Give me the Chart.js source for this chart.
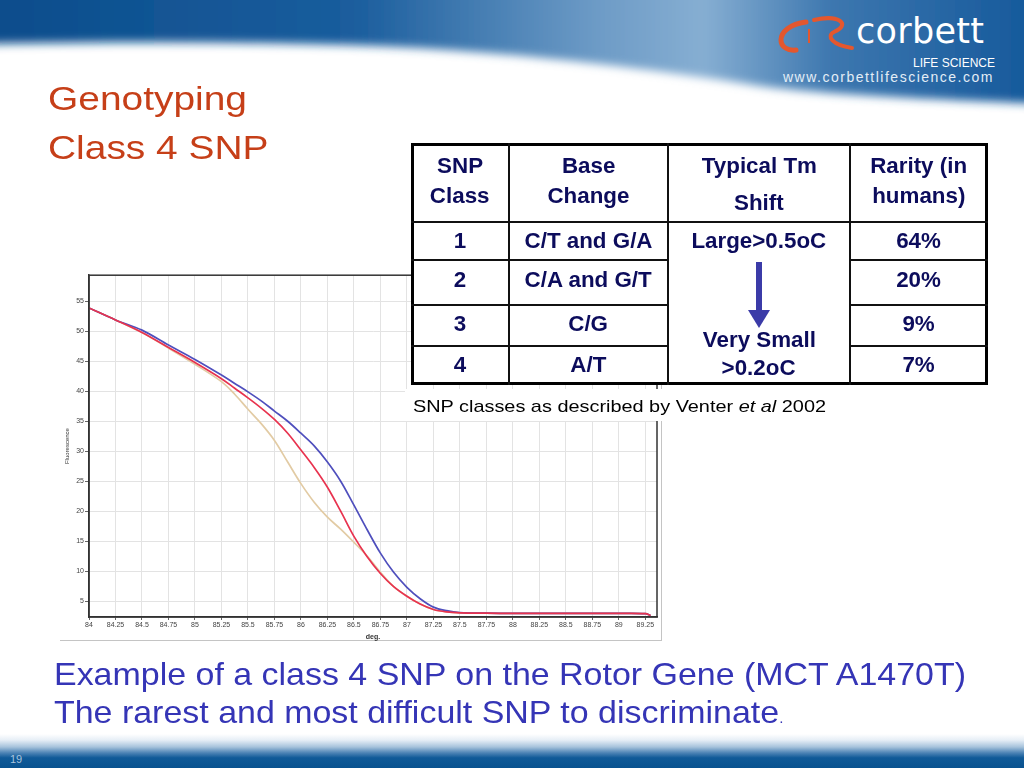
<!DOCTYPE html>
<html><head><meta charset="utf-8">
<script src="https://cdn.jsdelivr.net/npm/chart.js@4.4.0/dist/chart.umd.min.js"></script>
<style>
html,body{margin:0;padding:0;width:1024px;height:768px;overflow:hidden;background:#fff;font-family:"Liberation Sans",Arial,sans-serif;}
.abs{position:absolute;white-space:nowrap;line-height:1;}
#chartBox{position:absolute;left:62px;top:270px;width:599px;height:371px;}
#imgBorder{position:absolute;left:60px;top:268px;width:601px;height:372px;border-right:1px solid #c4c4c4;border-bottom:1px solid #c4c4c4;}
#table{position:absolute;left:411px;top:143px;width:577px;height:242px;background:#fff;border:3px solid #000;box-sizing:border-box;}
.ln{position:absolute;background:#111;}
.tc{position:absolute;white-space:nowrap;line-height:1;font-weight:bold;color:#0c0c5c;}
#bottomBand{position:absolute;left:0;top:734px;width:1024px;height:34px;
 background:linear-gradient(to bottom,#ffffff 0%,#e6eef6 18%,#a7c3dc 38%,#4f85b6 55%,#105a98 70%,#09528f 100%);}
</style></head><body>

<svg width="1024" height="130" style="position:absolute;left:0;top:0">
 <defs>
  <linearGradient id="gb" x1="0" y1="0" x2="1" y2="0">
   <stop offset="0" stop-color="#0a4c8b"/>
   <stop offset="0.35" stop-color="#1a5d9d"/>
   <stop offset="0.58" stop-color="#6d9bc6"/>
   <stop offset="0.68" stop-color="#86aed2"/>
   <stop offset="0.8" stop-color="#3d77af"/>
   <stop offset="1" stop-color="#13579a"/>
  </linearGradient>
  <filter id="bl" x="-0.1" y="-0.5" width="1.2" height="2"><feGaussianBlur stdDeviation="5"/></filter>
 </defs>
 <path d="M-20,-20 L1044,-20 L1044,104 L1000,102 C900,98 800,92 760,86 C660,70 520,52 380,46 C250,41 100,42 -20,44 Z" fill="url(#gb)" filter="url(#bl)"/>
 <path d="M806,22 C790,24 781,32 781,40 C781,47 788,51 796,50" fill="none" stroke="#e4572e" stroke-width="5" stroke-linecap="round"/>
 <path d="M809,29 L809,43" stroke="#e4572e" stroke-width="2"/>
 <path d="M814,20 C838,14 852,24 834,32 C826,36 832,45 852,48" fill="none" stroke="#e4572e" stroke-width="4" stroke-linecap="round"/>
</svg>
<div class="abs" style="left:856px;top:14px;font-family:'DejaVu Sans';font-size:35px;color:#fff;letter-spacing:0.3px;">corbett</div>
<div class="abs" style="left:913px;top:57px;font-size:12px;color:#fff;">LIFE SCIENCE</div>
<div class="abs" style="left:783px;top:70px;font-size:14px;letter-spacing:1.5px;color:#e3edf6;">www.corbettlifescience.com</div>

<div id="t1" class="abs" style="left:48px;font-size:34px;color:#c63f18;transform-origin:0 0;">Genotyping</div>
<div id="t2" class="abs" style="left:48px;font-size:34px;color:#c63f18;transform-origin:0 0;">Class 4 SNP</div>

<div id="imgBorder"></div>
<div id="chartBox"><canvas id="c" width="599" height="371"></canvas></div>

<div id="table"></div>
<div id="cap" class="abs" style="left:405px;top:389px;width:432px;height:32px;background:#fff;"></div>
<div id="capText" class="abs" style="left:413px;font-size:17px;color:#000;transform-origin:0 0;">SNP classes as described by Venter <i>et al</i> 2002</div>

<div id="b1" class="abs" style="left:54px;font-size:31.5px;color:#3535b6;transform-origin:0 0;">Example of a class 4 SNP on the Rotor Gene (MCT A1470T)</div>
<div id="b2" class="abs" style="left:54px;font-size:31.5px;color:#3535b6;transform-origin:0 0;">The rarest and most difficult SNP to discriminate<span style="font-size:14px;color:#3535b6">.</span></div>

<div id="bottomBand"></div>
<div class="abs" style="left:10px;top:754px;font-size:11px;color:#a9c3dc;">19</div>

<script>
// ---- chart data ----
const temps = [84, 84.25, 84.5, 84.75, 85, 85.25, 85.375, 85.5, 85.625, 85.75, 85.875, 86, 86.125, 86.25, 86.375, 86.5, 86.625, 86.75, 86.875, 87, 87.125, 87.25, 87.375, 87.5, 87.75, 88, 88.5, 89, 89.25, 89.3];
const fluorBlue = [53.9, 51.9, 50.2, 47.7, 45.3, 42.7, 41.3, 39.9, 38.4, 36.7, 35.0, 33.0, 30.9, 28.2, 25.0, 21.0, 16.9, 13.0, 9.8, 7.3, 5.4, 4.0, 3.4, 3.1, 3.0, 2.95, 2.95, 2.95, 2.9, 2.6];
const fluorRed = [53.9, 51.9, 49.8, 47.3, 44.8, 42.1, 40.5, 38.9, 37.2, 35.3, 33.0, 30.2, 27.3, 24.0, 20.0, 15.8, 12.4, 9.6, 7.4, 5.8, 4.5, 3.6, 3.2, 3.05, 2.98, 2.95, 2.95, 2.95, 2.9, 2.6];
const fluorTan = [53.9, 51.9, 49.8, 47.2, 44.5, 41.6, 39.5, 37.0, 34.6, 31.8, 28.2, 24.6, 21.5, 19.0, 17.0, 14.8, 12.5, 9.8, 7.4, 5.8, 4.5, 3.6, 3.2, 3.05, 2.98, 2.95, 2.95, 2.95, 2.9, 2.6];
const xTicks = [84, 84.25, 84.5, 84.75, 85, 85.25, 85.5, 85.75, 86, 86.25, 86.5, 86.75, 87, 87.25, 87.5, 87.75, 88, 88.25, 88.5, 88.75, 89, 89.25];
const yTicks = [5, 10, 15, 20, 25, 30, 35, 40, 45, 50, 55];

// ---- table data ----
const snpClass = ['1', '2', '3', '4'];
const baseChange = ['C/T and G/A', 'C/A and G/T', 'C/G', 'A/T'];
const rarity = ['64%', '20%', '9%', '7%'];

const pts = arr => temps.map((t, i) => ({x: t, y: arr[i]}));
const frame = {
  id: 'frame',
  afterDatasetsDraw(ch) {
    const a = ch.chartArea, c = ch.ctx;
    c.save(); c.strokeStyle = '#333'; c.lineWidth = 1.5;
    c.strokeRect(a.left, a.top, a.right - a.left, a.bottom - a.top);
    c.restore();
  }
};
const tickFont = {size: 7, family: 'Liberation Sans'};
const lineOpts = {borderWidth: 1.7, pointRadius: 0, tension: 0.35, capBezierPoints: true};
new Chart(document.getElementById('c'), {
  type: 'line',
  data: {datasets: [
    Object.assign({data: pts(fluorRed), borderColor: '#e8334f'}, lineOpts),
    Object.assign({data: pts(fluorBlue), borderColor: '#4f4fbd'}, lineOpts),
    Object.assign({data: pts(fluorTan), borderColor: '#e2cba4'}, lineOpts)
  ]},
  options: {
    responsive: false, animation: false, events: [],
    layout: {padding: {top: 3, right: 4, left: 0, bottom: 0}},
    plugins: {legend: {display: false}, tooltip: {enabled: false}},
    scales: {
      x: {type: 'linear', min: 84, max: 89.36,
        afterBuildTicks: s => { s.ticks = xTicks.map(v => ({value: v})); },
        afterFit: s => { s.height = 24; },
        grid: {color: '#e3e3e3', tickColor: '#666', tickLength: 3},
        border: {color: '#333', width: 1.5},
        ticks: {font: tickFont, color: '#444', padding: 1, maxRotation: 0, autoSkip: false, callback: v => String(v)},
        title: {display: true, text: 'deg.', font: {size: 7, weight: 'bold', family: 'Liberation Sans'}, color: '#333', padding: 0}
      },
      y: {min: 2.35, max: 59.36,
        afterBuildTicks: s => { s.ticks = yTicks.map(v => ({value: v})); },
        afterFit: s => { s.width = 27; },
        grid: {color: '#e3e3e3', tickColor: '#666', tickLength: 4},
        border: {color: '#333', width: 1.5},
        ticks: {font: tickFont, color: '#444', padding: 1, autoSkip: false, callback: v => String(v)},
        title: {display: true, text: 'Fluorescence', font: {size: 6, family: 'Liberation Sans'}, color: '#333', padding: {top: 2, bottom: 0}}
      }
    }
  },
  plugins: [frame]
});

// ---- text placement helpers ----
function setBaseline(el, baseline) {
  const fs = parseFloat(el.style.fontSize);
  el.style.top = (baseline - 0.8465 * fs) + 'px';
}
function fitWidth(el, target) {
  const w = el.getBoundingClientRect().width;
  const s = target / w;
  el.style.transform = 'scaleX(' + s + ')';
  return s;
}
const t1 = document.getElementById('t1'), t2 = document.getElementById('t2');
setBaseline(t1, 110); setBaseline(t2, 159);
fitWidth(t1, 199); t2.style.transform = t1.style.transform;
const b1 = document.getElementById('b1'), b2 = document.getElementById('b2');
setBaseline(b1, 686); setBaseline(b2, 724);
fitWidth(b1, 912); b2.style.transform = b1.style.transform;
const cap = document.getElementById('capText');
setBaseline(cap, 412); fitWidth(cap, 413);

// ---- table ----
const tb = document.body;
function line(x, y, w, h) {
  const d = document.createElement('div'); d.className = 'ln';
  d.style.left = x + 'px'; d.style.top = y + 'px'; d.style.width = w + 'px'; d.style.height = h + 'px';
  tb.appendChild(d);
}
[509, 668, 850].forEach(x => line(x - 0.75, 143, 1.5, 242));
line(411, 221.25, 577, 1.5);
[260, 305, 346].forEach(y => { line(411, y - 0.75, 257, 1.5); line(850, y - 0.75, 138, 1.5); });
const TFS = 21.5, TSC = 1.04;
function cell(text, cx, cy) {
  const d = document.createElement('div'); d.className = 'tc';
  d.textContent = text; d.style.fontSize = TFS + 'px';
  tb.appendChild(d);
  const w = d.getBoundingClientRect().width;
  d.style.left = (cx - w / 2) + 'px';
  d.style.top = (cy + 0.358 * TFS - 0.8465 * TFS) + 'px';
  d.style.transformOrigin = '50% 50%';
  d.style.transform = 'scaleX(' + TSC + ')';
}
const cx = [460, 588.5, 759, 919];
cell('SNP', cx[0], 167); cell('Class', cx[0], 197);
cell('Base', cx[1], 167); cell('Change', cx[1], 197);
cell('Typical Tm', cx[2], 167); cell('Shift', cx[2], 204);
cell('Rarity (in', cx[3], 167); cell('humans)', cx[3], 197);
const rowY = [242, 281, 325, 366];
rowY.forEach((y, i) => { cell(snpClass[i], cx[0], y); cell(baseChange[i], cx[1], y); cell(rarity[i], cx[3], y); });
cell('Large>0.5oC', cx[2], 242);
cell('Very Small', cx[2], 341);
cell('>0.2oC', cx[2], 369);
const arr = document.createElementNS('http://www.w3.org/2000/svg', 'svg');
arr.setAttribute('width', '30'); arr.setAttribute('height', '70');
arr.style.position = 'absolute'; arr.style.left = '744px'; arr.style.top = '260px';
arr.innerHTML = '<rect x="12" y="2" width="6" height="50" fill="#3b3ba8"/><path d="M4,50 L26,50 L15,68 Z" fill="#3b3ba8"/>';
tb.appendChild(arr);
</script>
</body></html>
